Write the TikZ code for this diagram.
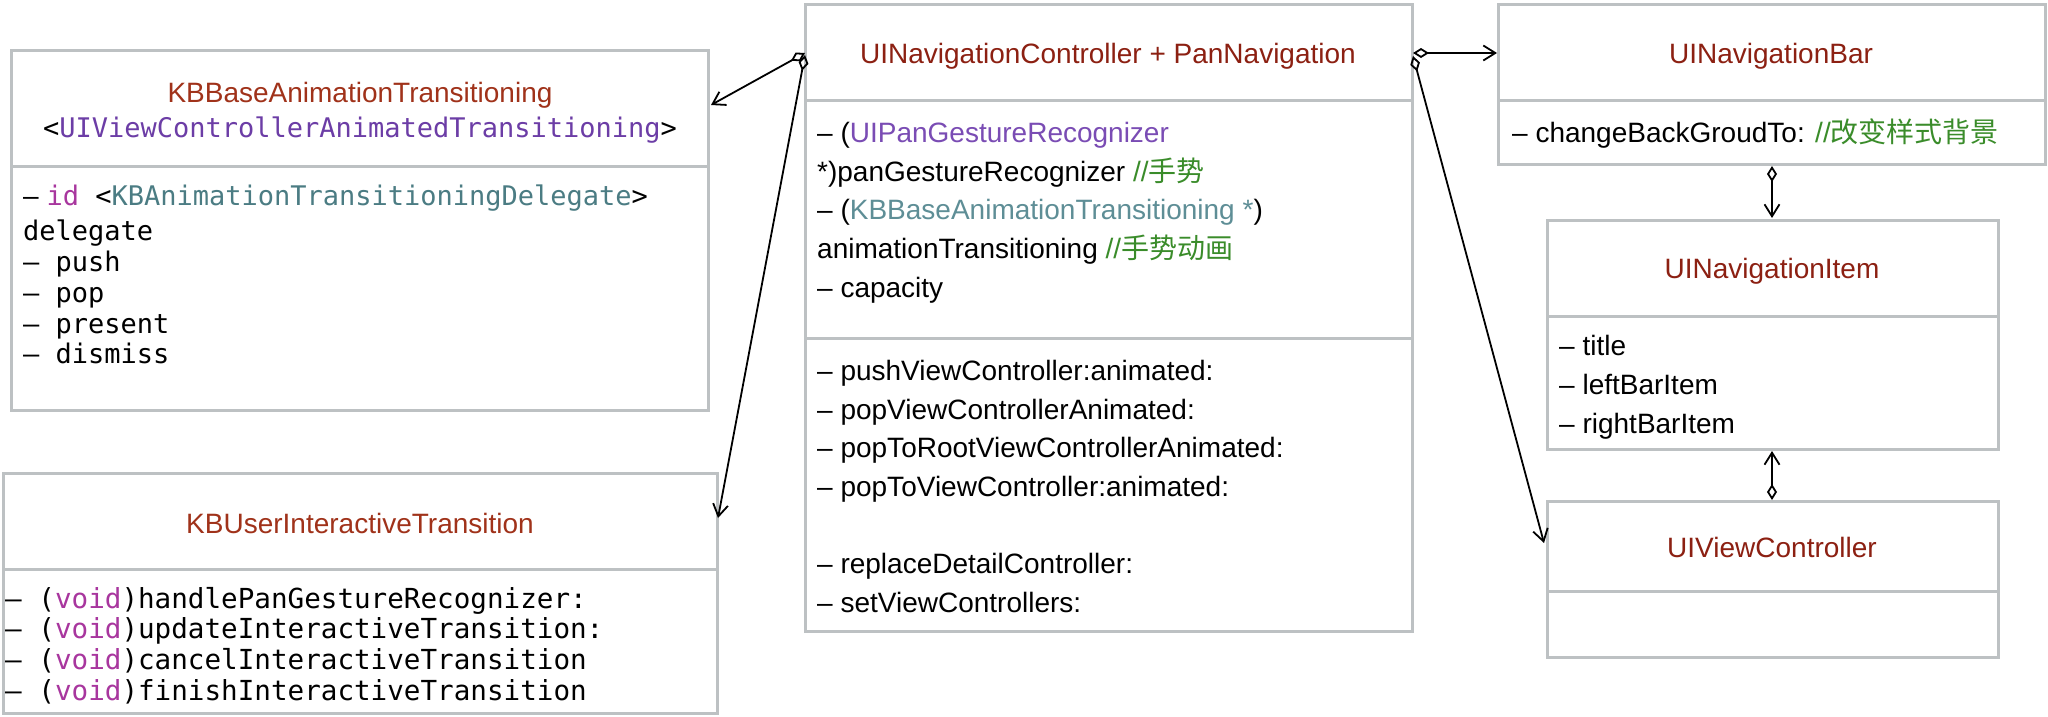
\documentclass[tikz,border=0pt]{standalone}
\usepackage{fontspec}
\setmainfont{Liberation Sans}
\setmonofont{DejaVu Sans Mono}
\newfontfamily\cjk{Noto Sans CJK SC}
\usetikzlibrary{arrows.meta}
\definecolor{bordergray}{HTML}{BDC1C3}
\definecolor{titleA}{HTML}{A0321A}
\definecolor{titleB}{HTML}{8C2012}
\definecolor{purpleA}{HTML}{6C3DA6}
\definecolor{purpleB}{HTML}{7A4CB4}
\definecolor{tealA}{HTML}{4B7C83}
\definecolor{tealB}{HTML}{5E8E96}
\definecolor{magentaA}{HTML}{A8369E}
\definecolor{greenA}{HTML}{3A8C2A}
\begin{document}
\begin{tikzpicture}[x=1pt,y=-1pt,
  box/.style={draw=bordergray, line width=3pt, inner sep=0pt, outer sep=0pt, anchor=north west},
  divider/.style={draw=bordergray, line width=3pt},
  title/.style={anchor=base, inner sep=0pt, font=\fontsize{28}{34}\selectfont},
  body/.style={anchor=base west, inner sep=0pt, font=\fontsize{28}{34}\selectfont},
  monoA/.style={anchor=base west, inner sep=0pt, font=\fontsize{27}{33}\selectfont\ttfamily},
  monoB/.style={anchor=base west, inner sep=0pt, font=\fontsize{27.6}{33}\selectfont\ttfamily},
  conn/.style={line width=1.8pt, {Diamond[open,length=16pt,width=10pt]}-{Straight Barb[length=12pt,width=15pt]}}
]
\useasboundingbox[fill=white] (0,0) rectangle (2048,716);

% ---------- Box A ----------
\node[box, minimum width=697pt, minimum height=360pt] (A) at (11,50) {};
\draw[divider] (A.west |- 0,166) -- (A.east |- 0,166);
\node[title, text=titleA] (At1) at (360,102) {KBBaseAnimationTransitioning};
\node[title, font=\fontsize{27}{33}\selectfont\ttfamily] (At2) at (360,137) {<\textcolor{purpleA}{UIViewControllerAnimatedTransitioning}>};
\node[monoA] (Ab1) at (23,205) {{\rmfamily\fontsize{28}{34}\selectfont – }\textcolor{magentaA}{id} <\textcolor{tealA}{KBAnimationTransitioningDelegate}>};
\node[monoA] (Ab2) at (23,240) {delegate};
\node[monoA] (Ab3) at (23,271) {– push};
\node[monoA] (Ab4) at (23,302) {– pop};
\node[monoA] (Ab5) at (23,333) {– present};
\node[monoA] (Ab6) at (23,363) {– dismiss};

% ---------- Box B ----------
\node[box, minimum width=714pt, minimum height=240pt] (B) at (3,473) {};
\draw[divider] (B.west |- 0,569) -- (B.east |- 0,569);
\node[title, text=titleA] (Bt) at (360,533) {KBUserInteractiveTransition};
\node[monoB] (Bb1) at (5,608) {– (\textcolor{magentaA}{void})handlePanGestureRecognizer:};
\node[monoB] (Bb2) at (5,638) {– (\textcolor{magentaA}{void})updateInteractiveTransition:};
\node[monoB] (Bb3) at (5,669) {– (\textcolor{magentaA}{void})cancelInteractiveTransition};
\node[monoB] (Bb4) at (5,700) {– (\textcolor{magentaA}{void})finishInteractiveTransition};

% ---------- Box C ----------
\node[box, minimum width=607pt, minimum height=627pt] (C) at (805,4) {};
\draw[divider] (C.west |- 0,100) -- (C.east |- 0,100);
\draw[divider] (C.west |- 0,338) -- (C.east |- 0,338);
\node[title, text=titleB] (Ct) at (1108,63) {UINavigationController + PanNavigation};
\node[body] (Cb1) at (817,142) {– (\textcolor{purpleB}{UIPanGestureRecognizer}};
\node[body] (Cb2) at (817,181) {*)panGestureRecognizer \textcolor{greenA}{//{\cjk 手势}}};
\node[body] (Cb3) at (817,219) {– (\textcolor{tealB}{KBBaseAnimationTransitioning *})};
\node[body] (Cb4) at (817,258) {animationTransitioning \textcolor{greenA}{//{\cjk 手势动画}}};
\node[body] (Cb5) at (817,297) {– capacity};
\node[body] (Cm1) at (817,380) {– pushViewController:animated:};
\node[body] (Cm2) at (817,419) {– popViewControllerAnimated:};
\node[body] (Cm3) at (817,457) {– popToRootViewControllerAnimated:};
\node[body] (Cm4) at (817,496) {– popToViewController:animated:};
\node[body] (Cm5) at (817,573) {– replaceDetailController:};
\node[body] (Cm6) at (817,612) {– setViewControllers:};

% ---------- Box D ----------
\node[box, minimum width=547pt, minimum height=160pt] (D) at (1498,4) {};
\draw[divider] (D.west |- 0,100) -- (D.east |- 0,100);
\node[title, text=titleB] (Dt) at (1771,63) {UINavigationBar};
\node[body] (Db1) at (1512,142) {– changeBackGroudTo: \textcolor{greenA}{//{\cjk 改变样式背景}}};

% ---------- Box E ----------
\node[box, minimum width=451pt, minimum height=229pt] (E) at (1547,220) {};
\draw[divider] (E.west |- 0,316) -- (E.east |- 0,316);
\node[title, text=titleB] (Et) at (1772,278) {UINavigationItem};
\node[body] (Eb1) at (1559,355) {– title};
\node[body] (Eb2) at (1559,394) {– leftBarItem};
\node[body] (Eb3) at (1559,433) {– rightBarItem};

% ---------- Box F ----------
\node[box, minimum width=451pt, minimum height=156pt] (F) at (1547,501) {};
\draw[divider] (F.west |- 0,591) -- (F.east |- 0,591);
\node[title, text=titleB] (Ft) at (1772,557) {UIViewController};

% ---------- connectors ----------
\coordinate (cCA) at (805,53);
\coordinate (cA)  at (711,105);
\coordinate (cCB) at (805,55);
\coordinate (cB)  at (718,518);
\coordinate (cCD) at (1413,53);
\coordinate (cD)  at (1497,53);
\coordinate (cCF) at (1413,56);
\coordinate (cF)  at (1544,543);
\coordinate (cDE) at (1772,166);
\coordinate (cEt) at (1772,218);
\coordinate (cFE) at (1772,500);
\coordinate (cEb) at (1772,451);
\draw[conn] (cCA) -- (cA);
\draw[conn] (cCB) -- (cB);
\draw[conn] (cCD) -- (cD);
\draw[conn] (cCF) -- (cF);
\draw[conn] (cDE) -- (cEt);
\draw[conn] (cFE) -- (cEb);
\end{tikzpicture}
\end{document}
